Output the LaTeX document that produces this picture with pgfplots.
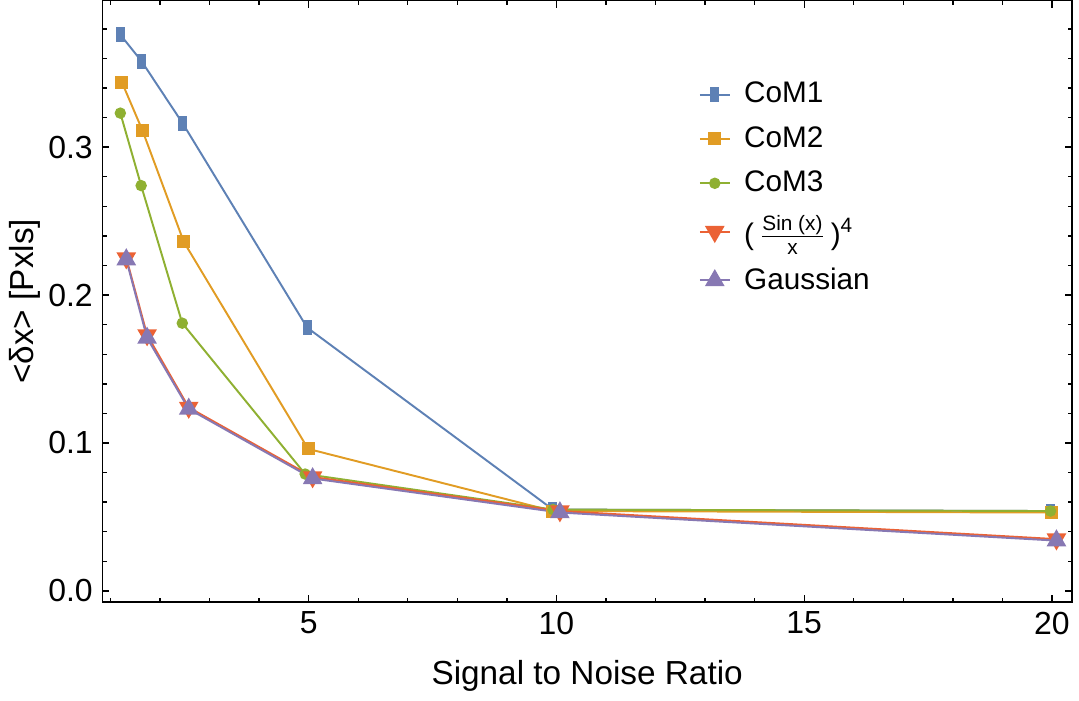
\documentclass[border=0pt]{standalone}
\usepackage{fontspec}
\setmainfont{Liberation Sans}
\usepackage{amsmath}
\usepackage{pgfplots}
\pgfplotsset{compat=1.18}
\definecolor{c1}{HTML}{5E81B5}
\definecolor{c2}{HTML}{E19C24}
\definecolor{c3}{HTML}{8FB032}
\definecolor{c4}{HTML}{EB6235}
\definecolor{c5}{HTML}{8778B3}
\begin{document}
\begin{tikzpicture}
\begin{axis}[
  scale only axis, width=349pt, height=216.5pt,
  xmin=0.84, xmax=20.4, ymin=-0.0075, ymax=0.399,
  xtick={5,10,15,20},
  minor xtick={1,2,3,4,6,7,8,9,11,12,13,14,16,17,18,19},
  ytick={0,0.1,0.2,0.3},
  minor ytick={0.02,0.04,0.06,0.08,0.12,0.14,0.16,0.18,0.22,0.24,0.26,0.28,0.32,0.34,0.36,0.38},
  yticklabel style={/pgf/number format/fixed,/pgf/number format/fixed zerofill,/pgf/number format/precision=1},
  /pgf/number format/assume math mode=true,
  tick label style={font=\fontsize{11.5}{13}\selectfont, black},
  label style={font=\fontsize{12}{14}\selectfont},
  xlabel={Signal to Noise Ratio},
  ylabel={<δx> [Pxls]},
  ylabel shift=-4pt, xlabel shift=2.5pt,
  major tick length=2.5pt, minor tick length=1.5pt,
  tick style={black, line width=0.5pt},
  axis line style={line width=0.5pt},
  legend style={draw=none, fill=none, at={(0.606,0.884)}, anchor=north west,
    font=\fontsize{10.7}{13}\selectfont, row sep=3pt},
  legend cell align=left,
  legend image code/.code={\draw[mark repeat=2,mark phase=2] plot coordinates {(0cm,0cm)(0.19cm,0cm)(0.38cm,0cm)};\path (0.48cm,0cm);},
  every axis plot/.append style={line width=0.7pt},
]
\addplot[c1, mark=square*, mark size=2.3pt, mark options={xscale=0.55, solid}] coordinates {
 (1.20,0.376)(1.63,0.358)(2.46,0.316)(4.97,0.178)(9.93,0.055)(19.97,0.054)};
\addlegendentry{CoM1}
\addplot[c2, mark=square*, mark size=2pt] coordinates {
 (1.23,0.344)(1.65,0.311)(2.48,0.236)(4.99,0.096)(9.93,0.054)(19.99,0.053)};
\addlegendentry{CoM2}
\addplot[c3, mark=*, mark size=1.7pt] coordinates {
 (1.20,0.323)(1.62,0.274)(2.45,0.181)(4.93,0.079)(9.93,0.055)(19.97,0.054)};
\addlegendentry{CoM3}
\addplot[c4, mark=triangle*, mark size=3.4pt, mark options={rotate=180}] coordinates {
 (1.32,0.225)(1.74,0.173)(2.58,0.124)(5.08,0.077)(10.07,0.054)(20.09,0.035)};
\addlegendentry{(\,$\frac{\text{Sin (x)}}{\text{x}}$\,)$^{\text{4}}$}
\addplot[c5, mark=triangle*, mark size=3.4pt] coordinates {
 (1.32,0.224)(1.74,0.171)(2.58,0.123)(5.08,0.076)(10.07,0.053)(20.09,0.034)};
\addlegendentry{Gaussian}
\end{axis}
\end{tikzpicture}
\end{document}
